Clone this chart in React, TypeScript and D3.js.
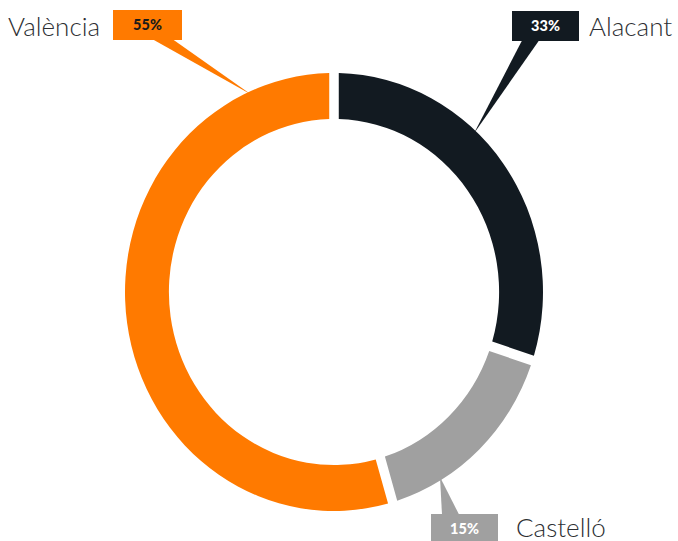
import React from "react";
import * as d3 from "d3";

const categories = ["Alacant", "Castelló", "València"];
const values = [30, 15, 55];
const valueLabels = ["33%", "15%", "55%"];
const colors = ["#121a21", "#a0a0a0", "#ff7a00"];
const valueTextColors = ["#ffffff", "#ffffff", "#1a1a1a"];

const W = 678;
const H = 541;
const cx = 334;
const cy = 292;
const R = 219;
const r = 173;
const sx = 209 / 219;
const gap = 10;

type Callout = {
  anchor: number;
  box: [number, number, number, number];
  base: [number, number];
  side: "top" | "bottom";
  nameX: number;
  nameY: number;
};

const callouts: Callout[] = [
  { anchor: 0.395, box: [512, 11, 67, 30], base: [522, 539], side: "bottom", nameX: 589, nameY: 36 },
  { anchor: 0.735, box: [431, 514, 67, 30], base: [442, 459], side: "top", nameX: 516, nameY: 537 },
  { anchor: 0.879, box: [113, 10, 69, 30], base: [153, 173], side: "bottom", nameX: 8, nameY: 36 },
];

export default function App() {
  const pie = d3
    .pie<number>()
    .sort(null)
    .value((d) => d)
    .startAngle(0)
    .endAngle(2 * Math.PI)
    .padAngle(gap / R);
  const arcs = pie(values);
  const arcGen = d3
    .arc<d3.PieArcDatum<number>>()
    .innerRadius(r)
    .outerRadius(R)
    .padRadius(R);

  return (
    <svg
      width={W}
      height={H}
      style={{ position: "absolute", left: 0, top: 0, background: "#fff" }}
    >
      <g transform={`translate(${cx},${cy}) scale(${sx},1)`}>
        {arcs.map((a, i) => (
          <path key={i} d={arcGen(a) || ""} fill={colors[i]} />
        ))}
      </g>
      {arcs.map((a, i) => {
        const c = callouts[i];
        const ang = a.startAngle + c.anchor * (a.endAngle - a.startAngle);
        const rr = R * 0.985;
        const tx = cx + sx * rr * Math.sin(ang);
        const ty = cy - rr * Math.cos(ang);
        const [bx, by, bw, bh] = c.box;
        const baseY = c.side === "bottom" ? by + bh - 0.5 : by + 0.5;
        const tri = `M${c.base[0]},${baseY}L${c.base[1]},${baseY}L${tx},${ty}Z`;
        return (
          <g key={"c" + i}>
            <path d={tri} fill={colors[i]} />
            <rect x={bx} y={by} width={bw} height={bh} fill={colors[i]} />
            <text
              x={bx + bw / 2}
              y={by + bh / 2 + 5}
              textAnchor="middle"
              fontFamily="Lato, 'Open Sans', sans-serif"
              fontWeight={900}
              fontSize={14.5}
              fill={valueTextColors[i]}
            >
              {valueLabels[i]}
            </text>
            <text
              x={c.nameX}
              y={c.nameY}
              fontFamily="Lato, 'Open Sans', sans-serif"
              fontWeight={300}
              fontSize={26}
              fill="#2d2f33"
            >
              {categories[i]}
            </text>
          </g>
        );
      })}
    </svg>
  );
}
